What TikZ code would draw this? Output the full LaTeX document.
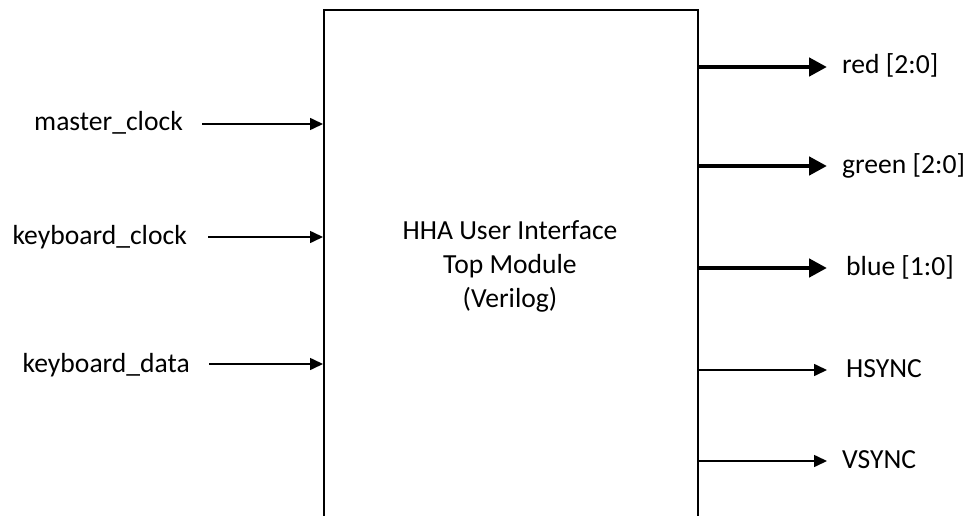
\documentclass[tikz,border=0pt]{standalone}
\usepackage{fontspec}
\setmainfont{Carlito}
\usetikzlibrary{arrows.meta}
\begin{document}
\begin{tikzpicture}[x=1pt,y=-1pt,
  lbl/.style={inner sep=0pt,font=\fontsize{27.6}{34}\selectfont},
  thinarrow/.style={line width=1.6pt,-{Triangle[length=13pt,width=12pt]}},
  busarrow/.style={line width=4.5pt,-{Triangle[length=18pt,width=18pt]}},
  blockbox/.style={draw,line width=1.8pt,inner sep=0pt,minimum width=374pt,minimum height=540pt,anchor=north west}]
\clip (0,0) rectangle (969,516);
\fill[white] (0,0) rectangle (969,516);
\node[blockbox] (box) at (323,9) {};
\node[lbl,align=center] (title) at (510,266) {HHA User Interface\\Top Module\\(Verilog)};
% inputs
\node[lbl,anchor=base east] (mc) at (183,131) {master\_clock};
\node[lbl,anchor=base east] (kc) at (187,244) {keyboard\_clock};
\node[lbl,anchor=base east] (kd) at (190,372) {keyboard\_data};
\coordinate (mcA) at (202,124);
\coordinate (kcA) at (208,237);
\coordinate (kdA) at (209,364);
\draw[thinarrow] (mcA) -- (mcA -| box.west);
\draw[thinarrow] (kcA) -- (kcA -| box.west);
\draw[thinarrow] (kdA) -- (kdA -| box.west);
% outputs
\node[lbl,anchor=base west] (red) at (842,74) {red [2:0]};
\node[lbl,anchor=base west] (green) at (842,173) {green [2:0]};
\node[lbl,anchor=base west] (blue) at (846,275) {blue [1:0]};
\node[lbl,anchor=base west] (hs) at (846,377) {HSYNC};
\node[lbl,anchor=base west] (vs) at (842,468) {VSYNC};
\coordinate (redA) at (827,67);
\coordinate (greenA) at (827,166);
\coordinate (blueA) at (827,268);
\coordinate (hsA) at (827,370);
\coordinate (vsA) at (827,461);
\draw[busarrow] (redA -| box.east) -- (redA);
\draw[busarrow] (greenA -| box.east) -- (greenA);
\draw[busarrow] (blueA -| box.east) -- (blueA);
\draw[thinarrow] (hsA -| box.east) -- (hsA);
\draw[thinarrow] (vsA -| box.east) -- (vsA);
\end{tikzpicture}
\end{document}
